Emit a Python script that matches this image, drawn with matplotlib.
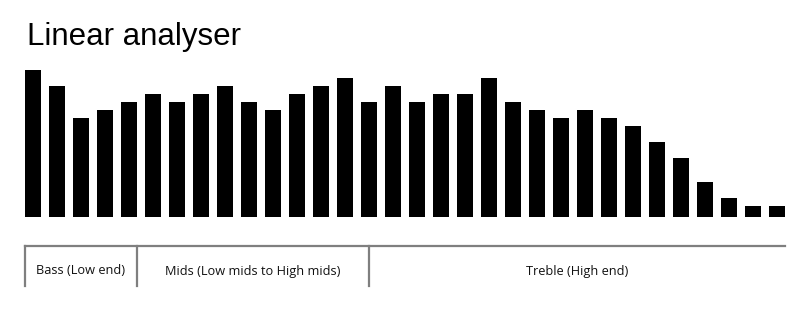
import matplotlib
matplotlib.use("Agg")
import matplotlib.pyplot as plt
from matplotlib.lines import Line2D

W, H = 807, 309
DPI = 100

# Bar heights (arbitrary level units)
levels = [147, 131, 99, 107, 115, 123, 115, 123, 131, 115, 107, 123, 131, 139, 115, 131,
          115, 123, 123, 139, 115, 107, 99, 107, 99, 91, 75, 59, 35, 19, 11, 11]
band_labels = ["Bass (Low end)", "Mids (Low mids to High mids)", "Treble (High end)"]
band_edges = [0, 4.667, 14.333, 31.667]  # in bar-slot units from left edge of first bar

title = "Linear analyser"

fig = plt.figure(figsize=(W / DPI, H / DPI), dpi=DPI)
fig.patch.set_facecolor("white")

# Bars axes: pixel box x 25..785, baseline at y=217.3 (from top)
left_px, right_px = 25, 785
base_px = 217.3
ax = fig.add_axes([left_px / W, (H - base_px) / H, (right_px - left_px) / W, 150 / H])
x = list(range(len(levels)))
ax.bar(x, levels, width=16 / 24, color="black")
ax.set_xlim(-8 / 24, len(levels) - 1 + 8 / 24)
ax.set_ylim(0, 150)
ax.axis("off")

fig.text(27 / W, 1 - 36.5 / H, title, fontsize=22.5, family="Liberation Sans",
         va="center", ha="left", color="black")

# Band section
line_y = 246
bot_y = 286
grey = "#7f7f7f"
scale = 24  # px per slot
x0 = 25
fig.add_artist(Line2D([x0 / W, 785 / W], [1 - line_y / H, 1 - line_y / H],
                      transform=fig.transFigure, color=grey, lw=1.6))
for e in band_edges[:-1]:
    xp = x0 + e * scale
    fig.add_artist(Line2D([xp / W, xp / W], [1 - line_y / H, 1 - bot_y / H],
                          transform=fig.transFigure, color=grey, lw=1.6))
for i, lab in enumerate(band_labels):
    xa = x0 + band_edges[i] * scale
    xb = x0 + band_edges[i + 1] * scale
    fig.text(((xa + xb) / 2) / W, 1 - 271 / H, lab, fontsize=9.2, family="Open Sans",
             ha="center", va="center", color="#111111")

fig.savefig("out.png", dpi=DPI, facecolor="white")
